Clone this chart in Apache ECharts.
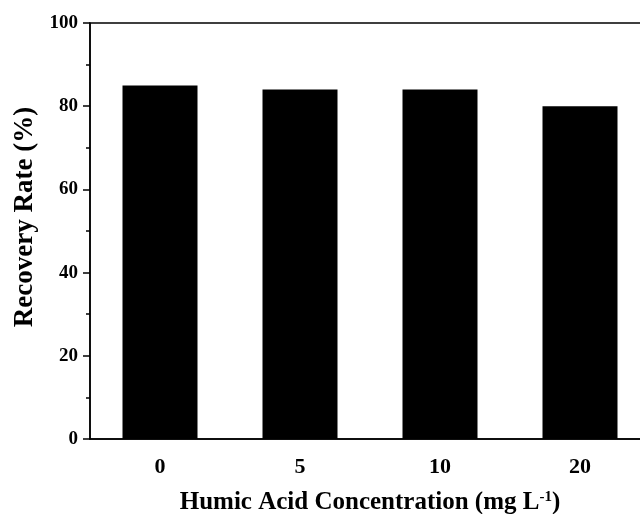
<!DOCTYPE html>
<html><head><meta charset="utf-8">
<script src="https://cdn.jsdelivr.net/npm/echarts@6/dist/echarts.min.js"></script>
<style>html,body{margin:0;padding:0;background:#fff}#c{width:640px;height:514px}</style>
</head><body><div id="c"></div>
<script>
const categories = ['0', '5', '10', '20'];
const recovery = [85, 84, 84, 80];
const yTicks = [0, 20, 40, 60, 80, 100];
const yTitle = 'Recovery Rate (%)';

const font = 'Liberation Serif';
const tickStyle = { color: '#000', width: 1.5 };
const chart = echarts.init(document.getElementById('c'));
chart.setOption({
  animation: false,
  grid: { left: 90, top: 23, bottom: 75, right: -10, containLabel: false, outerBoundsMode: 'none',
    show: true, borderColor: '#000', borderWidth: 1.5, backgroundColor: 'transparent' },
  xAxis: [{
    type: 'category', data: categories, position: 'bottom',
    axisLine: { lineStyle: { color: '#000', width: 1.5 } },
    axisTick: { alignWithLabel: true, length: 6, lineStyle: tickStyle },
    axisLabel: { color: '#000', fontFamily: font, fontWeight: 'bold', fontSize: 22, margin: 17 },
    name: '{a|Humic Acid Concentration (mg L}{s|-1}{a|)}',
    nameLocation: 'middle', nameGap: 51,
    nameTextStyle: { rich: {
      a: { fontFamily: font, fontWeight: 'bold', fontSize: 25, color: '#000' },
      s: { fontFamily: font, fontWeight: 'bold', fontSize: 15, color: '#000', verticalAlign: 'top', padding: [0, 0, 10, 0] }
    } }
  }, {
    type: 'category', data: categories, position: 'bottom',
    axisLine: { show: false },
    axisTick: { length: 4, lineStyle: tickStyle },
    axisLabel: { show: false }
  }, {
    type: 'category', data: categories, position: 'top',
    axisLine: { show: false },
    axisTick: { inside: true, alignWithLabel: true, length: 2, lineStyle: tickStyle },
    axisLabel: { show: false }
  }],
  yAxis: {
    type: 'value', min: 0, max: 100, interval: 20,
    axisLine: { show: true, lineStyle: { color: '#000', width: 1.5 } },
    axisTick: { show: true, length: 7, lineStyle: tickStyle },
    minorTick: { show: true, splitNumber: 2, length: 4, lineStyle: tickStyle },
    splitLine: { show: false },
    axisLabel: { color: '#000', fontFamily: font, fontWeight: 'bold', fontSize: 19, margin: 12,
      formatter: v => yTicks.includes(v) ? String(v) : '' }
  },
  graphic: [{
    type: 'text', x: 25, y: 217, rotation: Math.PI / 2,
    style: { text: yTitle, fontFamily: font, fontWeight: 'bold', fontSize: 27, fill: '#000', textAlign: 'center', textVerticalAlign: 'middle' }
  }],
  series: [{
    type: 'bar', data: recovery, barWidth: 75,
    itemStyle: { color: '#000' }
  }]
});
</script></body></html>
